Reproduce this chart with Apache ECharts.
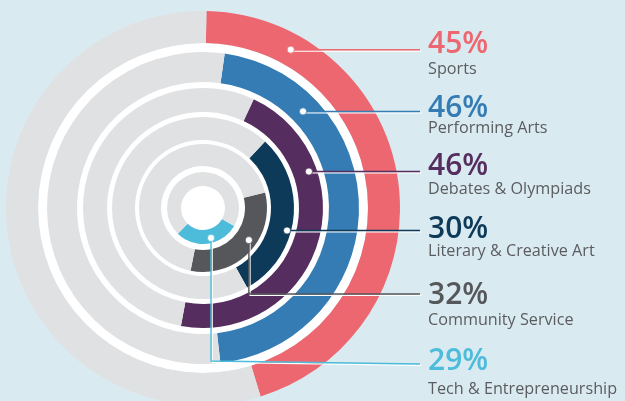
<!DOCTYPE html>
<html>
<head>
<meta charset="utf-8">
<script src="https://cdn.jsdelivr.net/npm/echarts@6/dist/echarts.min.js"></script>
<style>
  html, body { margin: 0; padding: 0; background: #d9eaf1; }
  #chart { width: 625px; height: 401px; }
</style>
</head>
<body>
<div id="chart"></div>
<script>
// 数据
const categories = ["Sports", "Performing Arts", "Debates & Olympiads", "Literary & Creative Art", "Community Service", "Tech & Entrepreneurship"];
const percents = [45, 46, 46, 30, 32, 29];
const pctLabels = ["45%", "46%", "46%", "30%", "32%", "29%"];

// 样式 / 布局
const colors = ["#ec6770", "#347cb3", "#552d5e", "#0c3a58", "#55575b", "#4dbcdb"];
const trackGray = "#e0e1e3";
const center = [203, 208];
const rings = [[165, 197], [126, 156], [96, 120], [68, 91], [42, 64], [22, 36]];
const startOffset = [1, 8, 25, 43, 76, 120]; // 从12点方向顺时针的起始角度
const dotPolar = [[181, 29], [139, 46], [112, 71], [87, 105], [56, 125], [31, 165]]; // [半径, 角度]
const elbowY = [null, null, null, null, 294, 361];
const lineEndY = [null, null, null, null, 294, 364];
const lineEndX = 420;
const textX = 428;
const pctY = [44, 108, 166, 229.5, 295.5, 361];
const nameY = [69, 128, 189, 251, 320, 389];

const myChart = echarts.init(document.getElementById("chart"), null, { renderer: "canvas" });

// 白色底盘（环之间的白色缝隙）
const series = [{
  type: "pie",
  center,
  radius: [0, rings[0][0]],
  silent: true,
  label: { show: false },
  labelLine: { show: false },
  itemStyle: { color: "#ffffff", borderWidth: 0 },
  data: [{ value: 1 }],
}];

categories.forEach((name, i) => {
  series.push({
    type: "pie",
    name,
    center,
    radius: rings[i],
    startAngle: 90 - startOffset[i],
    clockwise: true,
    silent: true,
    label: { show: false },
    labelLine: { show: false },
    itemStyle: { borderWidth: 0 },
    data: [
      { value: percents[i], itemStyle: { color: colors[i] } },
      { value: 100 - percents[i], itemStyle: { color: trackGray } },
    ],
  });
});

// 引导线和文字
const graphic = [];
categories.forEach((name, i) => {
  const r = dotPolar[i][0];
  const a = (dotPolar[i][1] * Math.PI) / 180;
  const dx = center[0] + r * Math.sin(a);
  const dy = center[1] - r * Math.cos(a);
  let pts;
  if (elbowY[i] !== null) {
    pts = [[dx, dy], [dx, elbowY[i]], [lineEndX, lineEndY[i]]];
  } else {
    pts = [[dx, dy], [lineEndX, dy]];
  }
  graphic.push({
    type: "polyline",
    shape: { points: pts.map((p) => [p[0] + 1.2, p[1] + 1.4]) },
    style: { stroke: "#ffffff", lineWidth: 1.2, fill: null },
    silent: true,
    z: 10,
  });
  graphic.push({
    type: "polyline",
    shape: { points: pts },
    style: { stroke: colors[i], lineWidth: 1.4, fill: null },
    silent: true,
    z: 11,
  });
  graphic.push({
    type: "circle",
    shape: { cx: dx, cy: dy, r: 3.6 },
    style: { fill: "#ffffff", stroke: colors[i], lineWidth: 0.8 },
    silent: true,
    z: 12,
  });
  graphic.push({
    type: "text",
    x: textX,
    y: pctY[i],
    style: {
      text: pctLabels[i],
      fill: colors[i],
      font: "600 30px 'Open Sans'",
      textAlign: "left",
      textVerticalAlign: "middle",
    },
    silent: true,
    z: 12,
  });
  graphic.push({
    type: "text",
    x: textX,
    y: nameY[i],
    style: {
      text: name,
      fill: "#5b5c60",
      font: "400 16.2px 'Open Sans'",
      textAlign: "left",
      textVerticalAlign: "middle",
    },
    silent: true,
    z: 12,
  });
});

myChart.setOption({
  backgroundColor: "#d9eaf1",
  animation: false,
  series,
  graphic,
});
</script>
</body>
</html>
